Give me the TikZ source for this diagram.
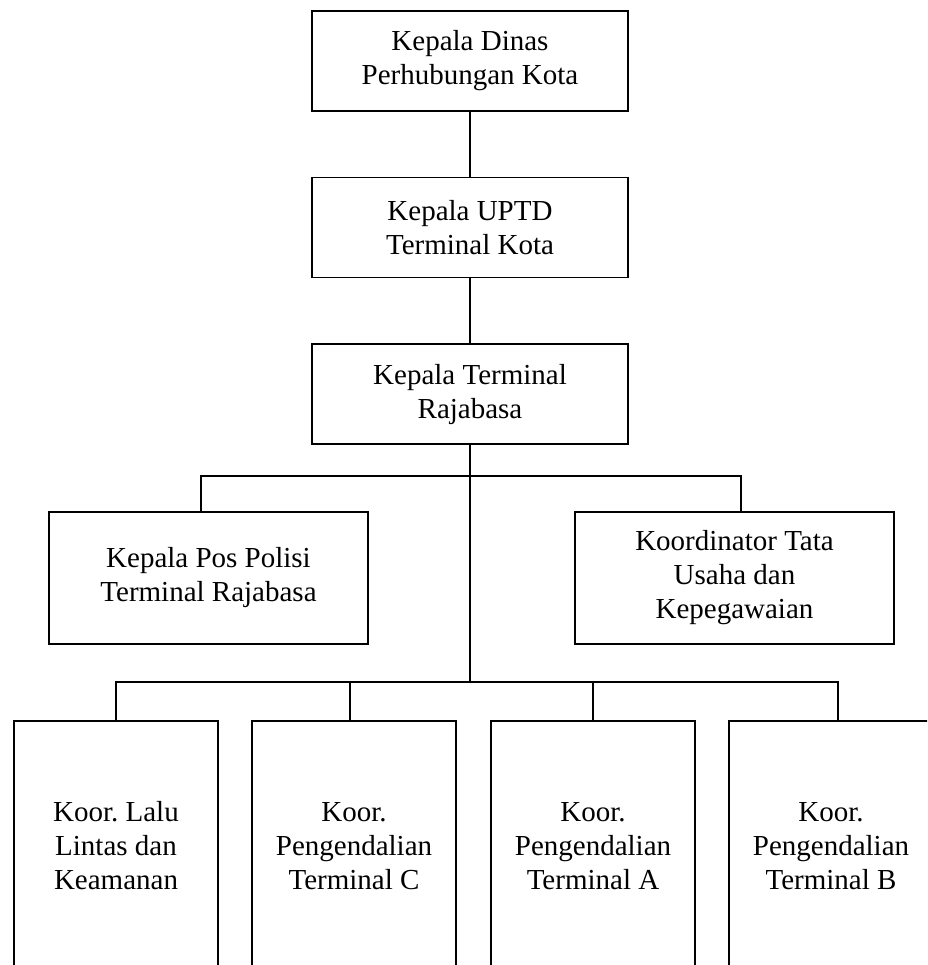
\documentclass[tikz,border=0pt]{standalone}
\usepackage{fontspec}
\setmainfont{Liberation Serif}
\usepackage{tikz}
\usetikzlibrary{positioning,calc}
\frenchspacing

\begin{document}
\begin{tikzpicture}[
x=1pt, y=-1pt,
orgbox/.style={rectangle, draw, line width=1.6pt, minimum width=316pt, minimum height=100pt, align=center, inner sep=0pt, font=\fontsize{29}{34}\selectfont},
midbox/.style={orgbox, minimum width=319pt, minimum height=132pt},
koorbox/.style={orgbox, minimum width=204pt, minimum height=250pt},
link/.style={line width=1.6pt}
]
\useasboundingbox (0,0) rectangle (927,965);
\clip (0,0) rectangle (927,965);

% --- Pimpinan ---
\node (kadis) [orgbox] at (470,61) {Kepala Dinas\\Perhubungan Kota};
\node (uptd) [orgbox, below=65pt of kadis] {Kepala UPTD\\Terminal Kota};
\node (kater) [orgbox, below=65pt of uptd] {Kepala Terminal\\Rajabasa};

% --- Staf ---
\node (polisi) [midbox] at (208.5,578) {Kepala Pos Polisi\\Terminal Rajabasa};
\node (tu) [midbox] at (734.5,578) {Koordinator Tata\\Usaha dan\\Kepegawaian};

% --- Koordinator lapangan ---
\node (koor1) [koorbox] at (116,846) {Koor. Lalu\\Lintas dan\\Keamanan};
\node (koor2) [koorbox] at (354,846) {Koor.\\Pengendalian\\Terminal C};
\node (koor3) [koorbox] at (593,846) {Koor.\\Pengendalian\\Terminal A};
\node (koor4) [koorbox] at (831,846) {Koor.\\Pengendalian\\Terminal B};

% --- Garis komando ---
\coordinate (bus1) at (470,476);
\coordinate (bus2) at (470,682);
\draw [link] (kadis) -- (uptd);
\draw [link] (uptd) -- (kater);
\draw [link] (kater.south) -- (bus2);
\draw [link] ([xshift=-7.5pt]polisi.north) |- (bus1) -| ([xshift=6.5pt]tu.north);
\draw [link] (koor1.north) |- (bus2) -| ([xshift=7pt]koor4.north);
\draw [link] ([xshift=-4pt]koor2.north) -- ([xshift=-4pt]koor2.north |- bus2);
\draw [link] (koor3.north) -- (koor3.north |- bus2);

\end{tikzpicture}
\end{document}
